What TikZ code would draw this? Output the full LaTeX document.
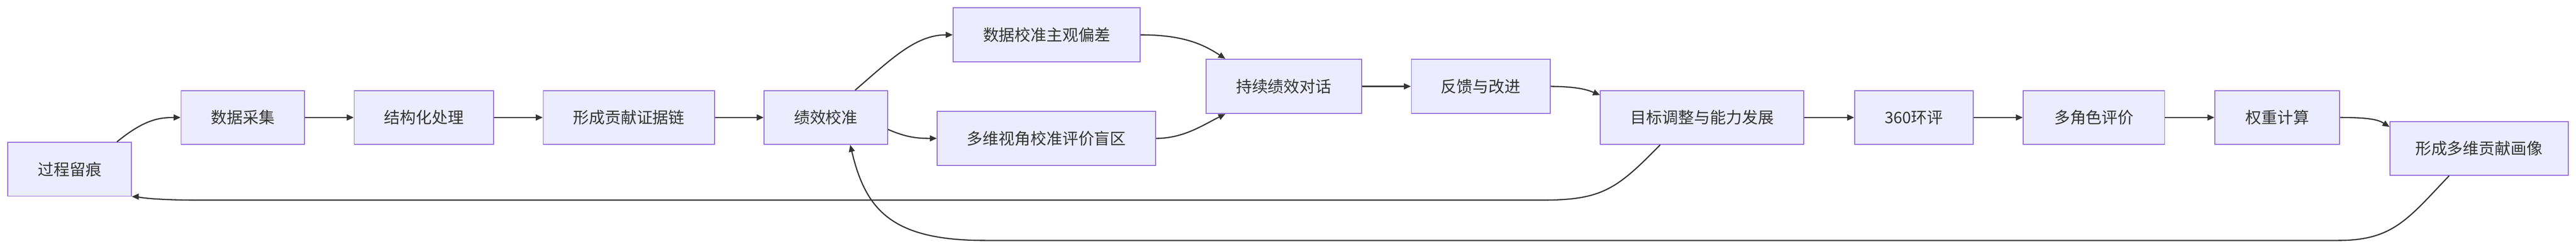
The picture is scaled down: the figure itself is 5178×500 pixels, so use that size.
\documentclass[tikz,border=0pt]{standalone}
\usepackage{fontspec}
\setmainfont{Noto Sans CJK SC}
\usetikzlibrary{arrows.meta}
\definecolor{nfill}{HTML}{ECECFF}
\definecolor{nedge}{HTML}{9370DB}
\definecolor{ln}{HTML}{333333}
\begin{document}
\begin{tikzpicture}[x=0.5pt,y=-0.5pt,
  box/.style={draw=nedge,fill=nfill,line width=1pt,inner sep=0pt,text=ln,font=\fontsize{16}{18}\selectfont},
  ar/.style={draw=ln,line width=1.2pt,-{Triangle[length=7pt,width=6pt]}}]
\useasboundingbox (0,0) rectangle (5178,500);
\newcommand{\bx}[6]{\node[box,minimum width={(#4-#2)*0.5pt},minimum height={(#5-#3)*0.5pt}] (#1) at ({(#2+#4)/2},{(#3+#5)/2}) {#6};}
\bx{a}{16}{286}{264}{394}{过程留痕}
\bx{b}{364}{182}{612}{290}{数据采集}
\bx{c}{712}{182}{992}{290}{结构化处理}
\bx{d}{1092}{182}{1436}{290}{形成贡献证据链}
\bx{e}{1536}{182}{1784}{290}{绩效校准}
\bx{f}{1916}{16}{2292}{124}{数据校准主观偏差}
\bx{g}{1884}{224}{2323}{332}{多维视角校准评价盲区}
\bx{h}{2424}{119}{2737}{228}{持续绩效对话}
\bx{i}{2837}{119}{3116}{228}{反馈与改进}
\bx{j}{3217}{182}{3626}{290}{目标调整与能力发展}
\bx{k}{3728}{182}{3966}{290}{360环评}
\bx{l}{4067}{182}{4351}{290}{多角色评价}
\bx{m}{4452}{182}{4703}{290}{权重计算}
\bx{n}{4804}{244}{5162}{352}{形成多维贡献画像}
\draw[ar] ([xshift=-15pt]a.north east) .. controls (290,240) and (320,236) .. (b.west);
\draw[ar] (b) -- (c);
\draw[ar] (c) -- (d);
\draw[ar] (d) -- (e);
\draw[ar] ([xshift=-33pt]e.north east) .. controls (1790,120) and (1840,70) .. (f.west);
\draw[ar] ([yshift=-12pt]e.east) .. controls (1820,275) and (1840,278) .. (g.west);
\draw[ar] (f.east) .. controls (2380,70) and (2420,90) .. ([xshift=20pt]h.north west);
\draw[ar] (g.east) .. controls (2380,278) and (2420,250) .. ([xshift=20pt]h.south west);
\draw[ar] (h) -- (i);
\draw[ar] (i.east) .. controls (3170,174) and (3190,180) .. ([yshift=-5pt]j.north west);
\draw[ar] (j) -- (k);
\draw[ar] (k) -- (l);
\draw[ar] (l) -- (m);
\draw[ar] (m.east) .. controls (4760,236) and (4780,240) .. ([yshift=-6pt]n.north west);
\draw[ar] ([xshift=-145pt]j.south east) .. controls (3250,380) and (3220,402) .. (3100,402) -- (400,402) .. controls (300,402) and (270,395) .. (a.south east);
\draw[ar] ([xshift=-120pt]n.south east) .. controls (4840,440) and (4810,483) .. (4700,483) -- (1980,483) .. controls (1790,483) and (1740,420) .. ([xshift=-38pt]e.south east);
\end{tikzpicture}
\end{document}
